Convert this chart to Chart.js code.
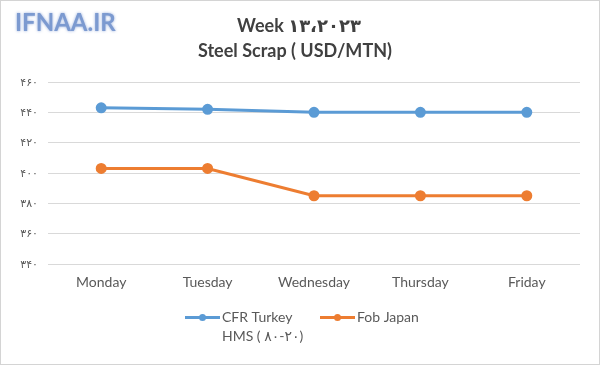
<!DOCTYPE html>
<html>
<head>
<meta charset="utf-8">
<script src="https://cdn.jsdelivr.net/npm/chart.js@4.4.0/dist/chart.umd.min.js"></script>
<style>
  html, body { margin: 0; padding: 0; background: #fff; }
  #wrap { width: 600px; height: 365px; box-sizing: border-box; border: 1px solid #d4d4d4; background: #fff; }
  canvas { display: block; }
</style>
</head>
<body>
<div id="wrap"><canvas id="c" width="598" height="363"></canvas></div>
<script>
const categories = ['Monday', 'Tuesday', 'Wednesday', 'Thursday', 'Friday'];
const cfrTurkey = [443, 442, 440, 440, 440];
const fobJapan = [403, 403, 385, 385, 385];
const seriesNames = [['CFR Turkey', 'HMS ( ۸۰-۲۰)'], ['Fob Japan']];
const seriesColors = ['#5B9BD5', '#ED7D31'];
const yTickValues = [340, 360, 380, 400, 420, 440, 460];
const yTickLabels = ['۳۴۰', '۳۶۰', '۳۸۰', '۴۰۰', '۴۲۰', '۴۴۰', '۴۶۰'];
const titleLines = ['Week ۱۳،۲۰۲۳', 'Steel Scrap ( USD/MTN)'];
const logoText = 'IFNAA.IR';

const FONT = "Lato, 'Open Sans', 'DejaVu Sans', sans-serif";

const decor = {
  id: 'decor',
  afterDraw(chart) {
    const ctx = chart.ctx;
    ctx.save();
    // logo
    ctx.font = "bold 24px " + FONT;
    ctx.textAlign = 'left';
    ctx.textBaseline = 'middle';
    ctx.shadowColor = 'rgba(120,150,210,0.8)';
    ctx.shadowBlur = 3;
    ctx.fillStyle = '#7C9AD0';
    ctx.fillText(logoText, 14, 22);
    ctx.shadowBlur = 0;
    // title
    ctx.fillStyle = '#404040';
    ctx.font = "bold 18px " + FONT;
    ctx.textAlign = 'center';
    ctx.fillText(titleLines[0], 298, 25);
    ctx.fillText(titleLines[1], 294, 50);
    // legend
    ctx.font = "14px " + FONT;
    ctx.textAlign = 'left';
    const starts = [184, 319];
    chart.data.datasets.forEach((ds, i) => {
      const x0 = starts[i];
      const y0 = 316.5;
      ctx.strokeStyle = ds.borderColor;
      ctx.lineWidth = 3;
      ctx.beginPath();
      ctx.moveTo(x0, y0);
      ctx.lineTo(x0 + 35, y0);
      ctx.stroke();
      ctx.fillStyle = ds.borderColor;
      ctx.beginPath();
      ctx.arc(x0 + 17.5, y0, 3.5, 0, Math.PI * 2);
      ctx.fill();
      ctx.fillStyle = '#595959';
      const lines = seriesNames[i];
      lines.forEach((t, k) => ctx.fillText(t, x0 + 37, y0 + k * 19));
    });
    ctx.restore();
  }
};

new Chart(document.getElementById('c'), {
  type: 'line',
  data: {
    labels: categories,
    datasets: [
      { label: seriesNames[0].join(' '), data: cfrTurkey, borderColor: seriesColors[0], backgroundColor: seriesColors[0],
        borderWidth: 3, pointRadius: 4, pointHoverRadius: 4, tension: 0 },
      { label: seriesNames[1].join(' '), data: fobJapan, borderColor: seriesColors[1], backgroundColor: seriesColors[1],
        borderWidth: 3, pointRadius: 4, pointHoverRadius: 4, tension: 0 }
    ]
  },
  options: {
    responsive: false,
    animation: false,
    layout: { padding: { top: 81, right: 19, bottom: 70, left: 0 } },
    plugins: { legend: { display: false }, title: { display: false }, tooltip: { enabled: false } },
    scales: {
      x: {
        offset: true,
        grid: { display: false, drawTicks: false },
        border: { display: false },
        ticks: { color: '#595959', font: { family: FONT, size: 14 }, padding: 10 },
        afterFit(s) { s.height = 30; }
      },
      y: {
        min: 340, max: 460,
        afterBuildTicks(s) { s.ticks = yTickValues.map(v => ({ value: v })); },
        grid: { color: '#D9D9D9', lineWidth: 1, drawTicks: false },
        border: { display: false },
        ticks: {
          color: '#595959', font: { family: FONT, size: 11 }, padding: 10,
          callback(v) { const i = yTickValues.indexOf(v); return i >= 0 ? yTickLabels[i] : ''; }
        },
        afterFit(s) { s.width = 47; }
      }
    }
  },
  plugins: [decor]
});
</script>
</body>
</html>
